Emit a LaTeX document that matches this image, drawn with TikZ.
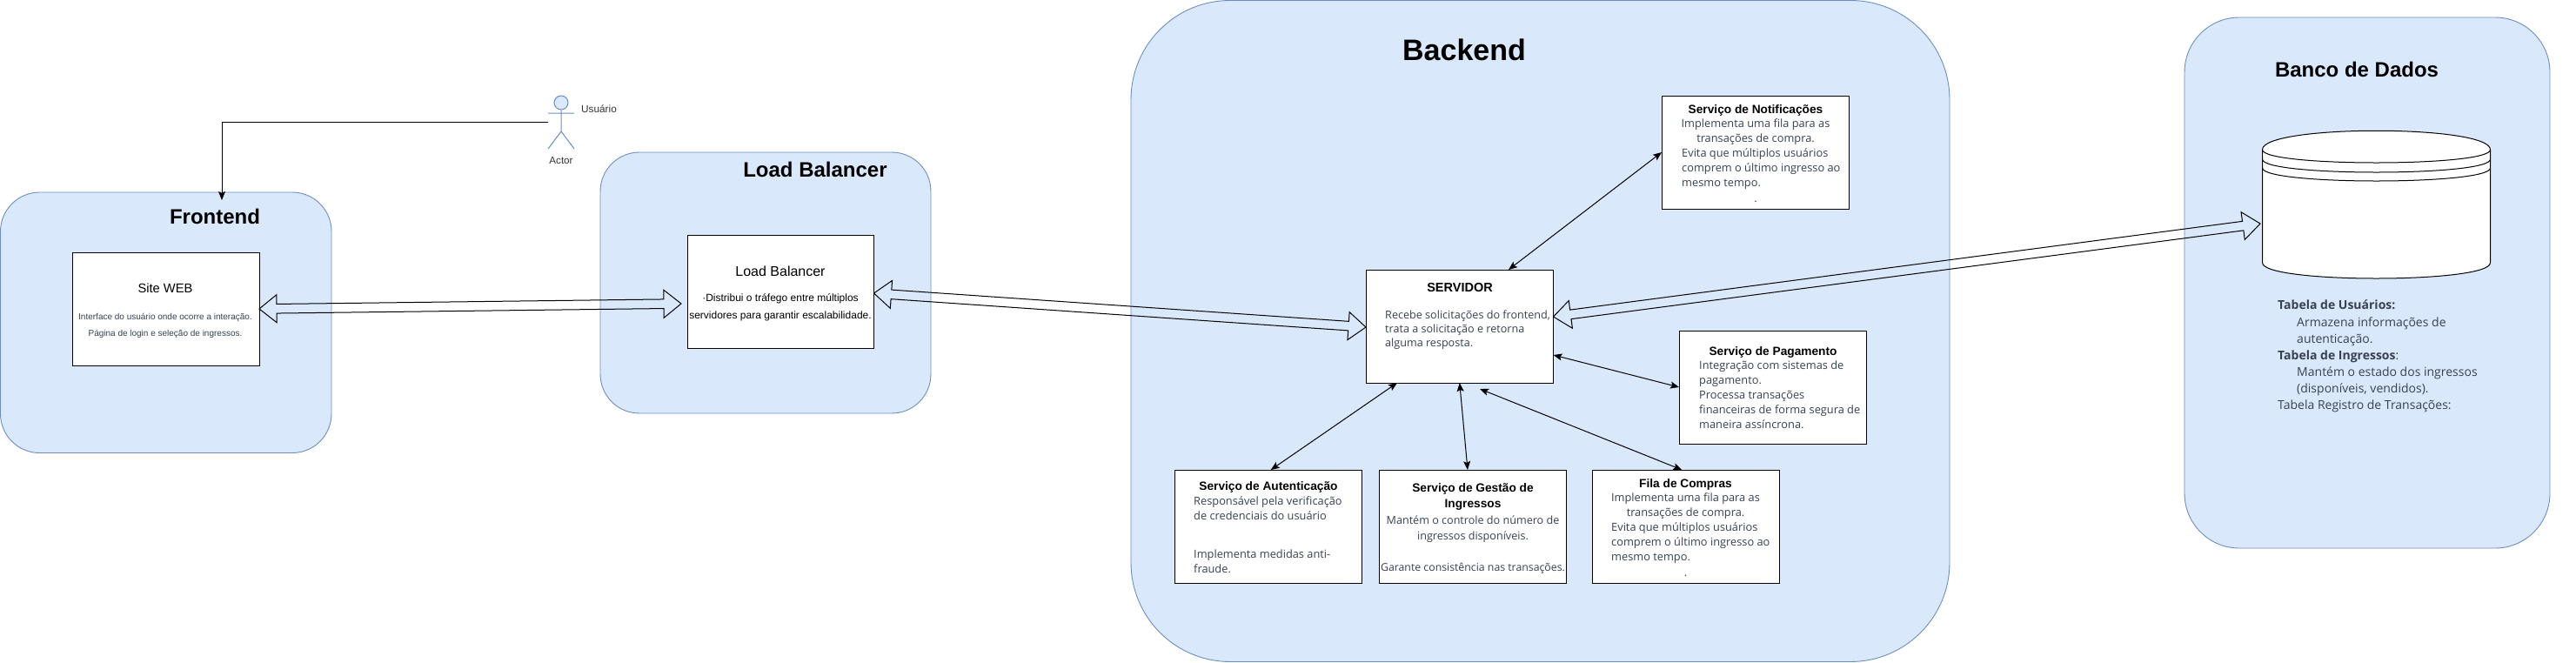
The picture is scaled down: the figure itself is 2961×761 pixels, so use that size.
\documentclass[tikz,border=0pt]{standalone}
\usepackage{fontspec}
\setmainfont{Liberation Sans}
\newfontfamily\segoe{Open Sans}
\usetikzlibrary{calc,arrows.meta,shapes.geometric}
\definecolor{grpfill}{HTML}{DAE8FC}
\definecolor{grpline}{HTML}{6C8EBF}
\definecolor{bodytxt}{HTML}{374151}
\tikzset{
  x=1pt,y=-1pt,
  grp/.style={draw=grpline,fill=grpfill,line width=0.9pt},
  boxnode/.style={draw=black,fill=white,line width=1pt,inner sep=0pt,outer sep=0pt},
  big/.style={font=\fontsize{24}{28}\selectfont\bfseries,inner sep=0pt},
  ttl/.style={font=\fontsize{13.7}{17.5}\selectfont\bfseries,inner sep=0pt,align=center,anchor=base},
  cbody/.style={font=\segoe\fontsize{12.8}{16.5}\selectfont,text=bodytxt,inner sep=0pt,align=center,anchor=base},
  lbody/.style={font=\segoe\fontsize{12.8}{16.8}\selectfont,text=bodytxt,inner sep=0pt,align=left,anchor=base west},
  dbody/.style={font=\segoe\fontsize{14}{19}\selectfont,text=bodytxt,inner sep=0pt,align=left,anchor=base west},
  thin txt/.style={inner sep=0pt,anchor=base},
  conn/.style={draw=black,line width=1pt,{Stealth[length=10pt,width=8pt,inset=2pt]}-{Stealth[length=10pt,width=8pt,inset=2pt]}},
  hollow/.style={draw=black,line width=1pt,line join=miter},
}
\newcommand{\roundgrp}[6]{% name, x0,y0,x1,y1,r
  \path[grp,rounded corners=#6pt] (#2,#3) rectangle (#4,#5);
  \coordinate (#1) at ({(#2+#4)/2},{(#3+#5)/2});}
\newcommand{\boxat}[5]{% name x0 y0 x1 y1
  \node[boxnode,minimum width={(#4-#2)*1pt},minimum height={(#5-#3)*1pt}] (#1) at ({(#2+#4)/2},{(#3+#5)/2}) {};}
\newcommand{\hollowarrow}[2]{%
  \draw[hollow] (#1) -- ($(#1)!20pt!(#2)!16pt!90:(#2)$) -- ($(#1)!20pt!(#2)!5.3pt!90:(#2)$)
   -- ($(#2)!20pt!(#1)!5.3pt!-90:(#1)$) -- ($(#2)!20pt!(#1)!16pt!-90:(#1)$) -- (#2)
   -- ($(#2)!20pt!(#1)!16pt!90:(#1)$) -- ($(#2)!20pt!(#1)!5.3pt!90:(#1)$)
   -- ($(#1)!20pt!(#2)!5.3pt!-90:(#2)$) -- ($(#1)!20pt!(#2)!16pt!-90:(#2)$) -- cycle;}
\begin{document}
\begin{tikzpicture}
\useasboundingbox (0,0) rectangle (2961,761);
% groups
\roundgrp{gfront}{0.5}{221}{381}{520.5}{45}
\roundgrp{glb}{690}{175}{1070}{475}{45}
\roundgrp{gback}{1300}{0.5}{2241}{760.5}{114}
\roundgrp{gdb}{2511}{20}{2931}{630}{63}
% group titles
\node[big] (tfront) at (247,249) {Frontend};
\node[big] (tlb) at (937,195) {Load Balancer};
\node[big,font=\fontsize{34}{40}\selectfont\bfseries] (tback) at (1683,57) {Backend};
\node[big] (tdb) at (2709,80) {Banco de Dados};
% boxes
\boxat{site}{83}{290}{298}{420}
\boxat{lb}{790}{270}{1004.5}{400}
\boxat{serv}{1570}{310}{1785.5}{440}
\boxat{notif}{1910}{110}{2125.5}{240}
\boxat{pag}{1930}{380}{2145.5}{510}
\boxat{aut}{1350}{540}{1565.5}{670}
\boxat{gest}{1585.5}{540}{1800.5}{670}
\boxat{fila}{1830}{540}{2045.5}{670}
% box text: site
\node[thin txt,font=\fontsize{14.7}{17}\selectfont] (sitet) at (190,336) {Site WEB};
\node[thin txt,font=\fontsize{10}{19}\selectfont,text=bodytxt,align=center] (sited) at (190,386) {Interface do usuário onde ocorre a interação.\\Página de login e seleção de ingressos.};
% lb
\node[thin txt,font=\fontsize{16}{18}\selectfont] (lbt) at (897,317) {Load Balancer};
\node[thin txt,font=\fontsize{12}{20}\selectfont,align=center] (lbd) at (897,366) {·Distribui o tráfego entre múltiplos\\servidores para garantir escalabilidade.};
% serv
\node[ttl,font=\fontsize{14.5}{17}\selectfont\bfseries] (servt) at (1678,335) {SERVIDOR};
\node[lbody,font=\segoe\fontsize{12.6}{15.7}\selectfont] (servd) at (1592,398) {Recebe solicitações do frontend,\\trata a solicitação e retorna\\alguma resposta.};
% notif
\node[ttl] (nt) at (2018,130) {Serviço de Notificações};
\node[cbody] (nc) at (2018,163) {Implementa uma fila para as\\transações de compra.};
\node[lbody] (nl) at (1933,214) {Evita que múltiplos usuários\\comprem o último ingresso ao\\mesmo tempo.};
\node[cbody] (nd) at (2018,232) {.};
% pag
\node[ttl] (pt) at (2038,408) {Serviço de Pagamento};
\node[lbody] (pl) at (1953,492) {Integração com sistemas de\\pagamento.\\Processa transações\\financeiras de forma segura de\\maneira assíncrona.};
% aut
\node[ttl] (at) at (1458,563) {Serviço de Autenticação};
\node[lbody] (al1) at (1372,597) {Responsável pela verificação\\de credenciais do usuário};
\node[lbody] (al2) at (1372,658) {Implementa medidas anti-\\fraude.};
% gest
\node[ttl] (gt) at (1693,583) {Serviço de Gestão de\\Ingressos};
\node[cbody,font=\segoe\fontsize{12.6}{18}\selectfont] (gc) at (1693,620) {Mantém o controle do número de\\ingressos disponíveis.};
\node[cbody,font=\segoe\fontsize{12.3}{16}\selectfont] (gc2) at (1693,656) {Garante consistência nas transações.};
% fila
\node[ttl] (ft) at (1937.5,560) {Fila de Compras};
\node[cbody] (fc) at (1937.5,593) {Implementa uma fila para as\\transações de compra.};
\node[lbody] (fl) at (1852,644) {Evita que múltiplos usuários\\comprem o último ingresso ao\\mesmo tempo.};
\node[cbody] (fd) at (1937.5,662) {.};
% database
\path[draw=black,fill=white,line width=1pt] (2600.5,172) .. controls (2600.5,143) and (2862.5,143) .. (2862.5,172) -- (2862.5,302) .. controls (2862.5,326) and (2600.5,326) .. (2600.5,302) -- cycle;
\foreach \yy in {172,183,193}{
  \draw[black,line width=1pt] (2600.5,\yy) .. controls (2600.5,\yy+20) and (2862.5,\yy+20) .. (2862.5,\yy);
}
% db text
\node[dbody] (d1) at (2618,355) {\textbf{Tabela de Usuários:}};
\node[dbody] (d2) at (2640,394) {Armazena informações de\\autenticação.};
\node[dbody] (d3) at (2618,413) {\textbf{Tabela de Ingressos}:};
\node[dbody] (d4) at (2640,451) {Mantém o estado dos ingressos\\(disponíveis, vendidos).};
\node[dbody] (d5) at (2618,470) {Tabela Registro de Transações:};
% actor
\node[draw=grpline,fill=grpfill,ellipse,line width=1pt,minimum width=16pt,minimum height=16pt,inner sep=0pt] (head) at (645,118) {};
\coordinate (armL) at (630,130);
\coordinate (armR) at (660,130);
\coordinate (hip) at (645,151);
\coordinate (legL) at (630,171);
\coordinate (legR) at (660,171);
\draw[grpline,line width=1pt] (head.south) -- (hip) (armL) -- (armR) (legL) -- (hip) -- (legR);
\node[thin txt,font=\fontsize{11.6}{12}\selectfont,text=black!80] (actorlbl) at (645,188) {Actor};
\node[inner sep=0pt,anchor=base west,font=\fontsize{11.8}{12}\selectfont,text=black!80] (userlbl) at (668,129) {Usuário};
% connectors
\coordinate (actorL) at (630,140);
\coordinate (frontin) at (255,230);
\draw[black,line width=1pt,-{Stealth[length=10pt,width=8pt,inset=2pt]}] (actorL) -| (frontin);
\draw[conn] (notif.west) -- ([xshift=-51.5pt]serv.north east);
\draw[conn] ([yshift=32pt]serv.south east) -- (pag.west);
\draw[conn] ([xshift=36pt]serv.south west) -- ([xshift=3pt]aut.north);
\draw[conn] (serv.south) -- ([xshift=-6pt]gest.north);
\coordinate (servlow) at (1701,447);
\draw[conn] (servlow) -- ([xshift=-4.5pt]fila.north);
% hollow arrows
\coordinate (a1) at (298,355); \coordinate (a2) at (783,349);
\hollowarrow{a1}{a2}
\coordinate (b1) at (1004.5,337); \coordinate (b2) at (1570,376);
\hollowarrow{b1}{b2}
\coordinate (c1) at (1785.5,364); \coordinate (c2) at (2598,257);
\hollowarrow{c1}{c2}
\end{tikzpicture}
\end{document}
